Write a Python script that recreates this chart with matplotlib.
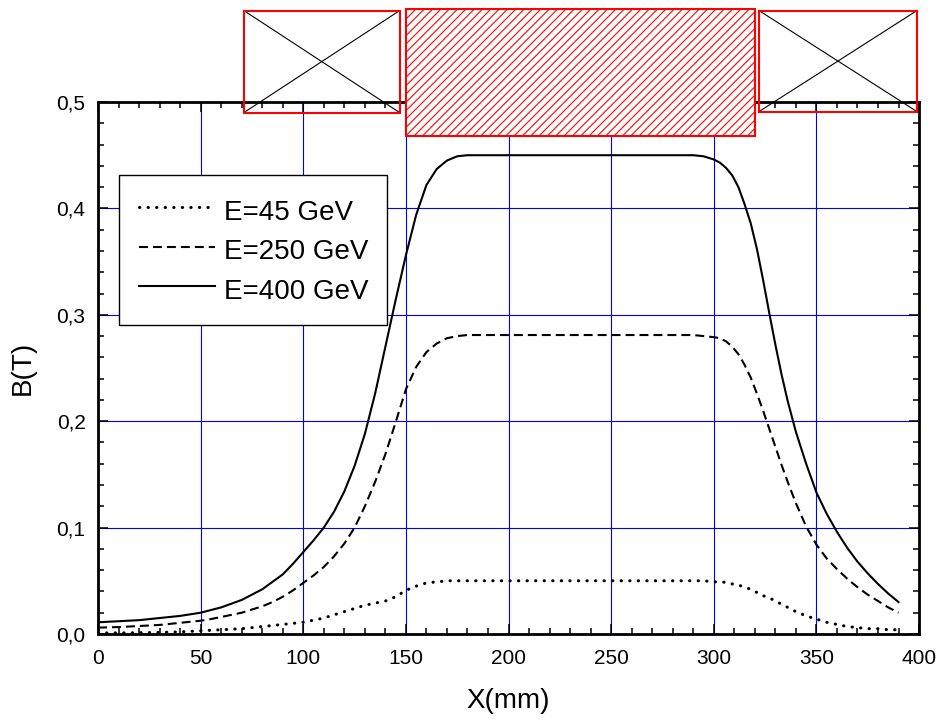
import matplotlib
matplotlib.use("Agg")
import matplotlib.pyplot as plt
from matplotlib.patches import Rectangle
from matplotlib.ticker import MultipleLocator, FuncFormatter

plt.rcParams['font.family'] = ['Liberation Sans', 'DejaVu Sans']
plt.rcParams['hatch.linewidth'] = 0.8

# field profiles read along the beam axis
x_mm = [0, 10, 20, 30, 40,
        50, 55, 60, 65, 70, 75, 80, 85, 90, 95, 100, 105, 110, 115, 120, 125,
        130, 135, 140, 145, 150, 155, 160, 165, 170, 175, 180,
        200, 250,
        290, 295, 300,
        303, 306, 309, 312, 315, 318, 321, 324, 327, 330, 333, 336,
        340, 345, 350, 355, 360, 365, 370, 375, 380, 385, 390]

b_400 = [0.011, 0.012, 0.013, 0.015, 0.017,
         0.020, 0.0225, 0.025, 0.0285, 0.032, 0.037, 0.042, 0.049, 0.056,
         0.066, 0.077, 0.088, 0.100, 0.115, 0.134, 0.158, 0.188, 0.226, 0.270,
         0.314, 0.356, 0.394, 0.422, 0.437, 0.445, 0.449, 0.450,
         0.450, 0.450,
         0.450, 0.449, 0.446,
         0.443, 0.438, 0.431, 0.420, 0.404, 0.386, 0.362, 0.333, 0.302, 0.272,
         0.244, 0.219,
         0.190, 0.160, 0.133, 0.113, 0.096, 0.081, 0.068, 0.057, 0.047, 0.038,
         0.030]

b_250 = [0.006, 0.0065, 0.0075, 0.0085, 0.0105,
         0.0125, 0.014, 0.016, 0.018, 0.020, 0.023, 0.026, 0.030, 0.035, 0.041,
         0.048, 0.055, 0.063, 0.073, 0.085, 0.100, 0.120, 0.143, 0.169, 0.199,
         0.230, 0.251, 0.265, 0.273, 0.278, 0.280, 0.281,
         0.281, 0.281,
         0.281, 0.280, 0.279,
         0.278, 0.275, 0.270, 0.263, 0.253, 0.241, 0.226, 0.210, 0.193, 0.176,
         0.159, 0.143,
         0.123, 0.101, 0.084, 0.071, 0.061, 0.052, 0.044, 0.037, 0.031, 0.025,
         0.020]

b_45 = [0.001, 0.001, 0.0012, 0.0015, 0.002,
        0.003, 0.0035, 0.004, 0.0045, 0.005, 0.006, 0.007, 0.008, 0.009, 0.010,
        0.011, 0.013, 0.015, 0.018, 0.021, 0.024, 0.027, 0.029, 0.031, 0.035,
        0.041, 0.045, 0.048, 0.049, 0.050, 0.050, 0.050,
        0.050, 0.050,
        0.050, 0.050, 0.049,
        0.049, 0.0485, 0.047, 0.046, 0.044, 0.042, 0.039, 0.036, 0.034, 0.031,
        0.028, 0.025,
        0.021, 0.017, 0.014, 0.011, 0.009, 0.007, 0.006, 0.005, 0.005, 0.004,
        0.004]

# magnet layout above the plot: (start, end, bottom, top)
coil_left = (71, 147, 0.490, 0.586)
yoke = (150, 320, 0.468, 0.587)
coil_right = (322, 399, 0.491, 0.586)

fig = plt.figure(figsize=(9.4, 7.22), dpi=100)
ax = fig.add_axes([0.1043, 0.1219, 0.8734, 0.7368])

ax.plot(x_mm, b_45, color='black', lw=2.2, dashes=(0.1, 2.7),
        dash_capstyle='round', label='E=45 GeV', zorder=3)
ax.plot(x_mm, b_250, color='black', lw=1.5, dashes=(4.3, 2.4),
        label='E=250 GeV', zorder=3)
ax.plot(x_mm, b_400, color='black', lw=1.5, label='E=400 GeV', zorder=3)

ax.set_xlim(0, 400)
ax.set_ylim(0, 0.5)
ax.xaxis.set_major_locator(MultipleLocator(50))
ax.xaxis.set_minor_locator(MultipleLocator(10))
ax.yaxis.set_major_locator(MultipleLocator(0.1))
ax.yaxis.set_minor_locator(MultipleLocator(0.02))
ax.yaxis.set_major_formatter(FuncFormatter(lambda v, p: f"{v:.1f}".replace('.', ',')))

ax.tick_params(which='both', direction='in', top=True, right=True, width=1.1)
ax.tick_params(which='major', length=7.2, labelsize=15)
ax.tick_params(which='minor', length=4.3)
ax.tick_params(axis='x', pad=11)
ax.tick_params(axis='y', pad=9)
for s in ax.spines.values():
    s.set_linewidth(2)

ax.grid(True, which='major', color='blue', lw=0.8)
ax.set_axisbelow(True)

ax.set_xlabel('X(mm)', fontsize=20, labelpad=14)
ax.set_ylabel('B(T)', fontsize=20, labelpad=15)

leg = ax.legend(loc='upper left', bbox_to_anchor=(0.026, 0.863), fontsize=20,
                fancybox=False, edgecolor='black', framealpha=1,
                handlelength=2.75, handletextpad=0.3, handleheight=1.4,
                labelspacing=0.27, borderpad=0.7, borderaxespad=0)
leg.get_frame().set_linewidth(1.0)

for x0, x1, y0, y1 in (coil_left, coil_right):
    ax.plot([x0, x1], [y0, y1], color='black', lw=0.8, clip_on=False)
    ax.plot([x0, x1], [y1, y0], color='black', lw=0.8, clip_on=False)
    ax.add_patch(Rectangle((x0, y0), x1 - x0, y1 - y0, fill=False,
                           edgecolor='red', lw=1.5, clip_on=False, zorder=4))

x0, x1, y0, y1 = yoke
ax.add_patch(Rectangle((x0, y0), x1 - x0, y1 - y0, facecolor='white',
                       edgecolor='red', hatch='////', lw=1.5, clip_on=False,
                       zorder=4))

fig.savefig('out.png', dpi=100)
